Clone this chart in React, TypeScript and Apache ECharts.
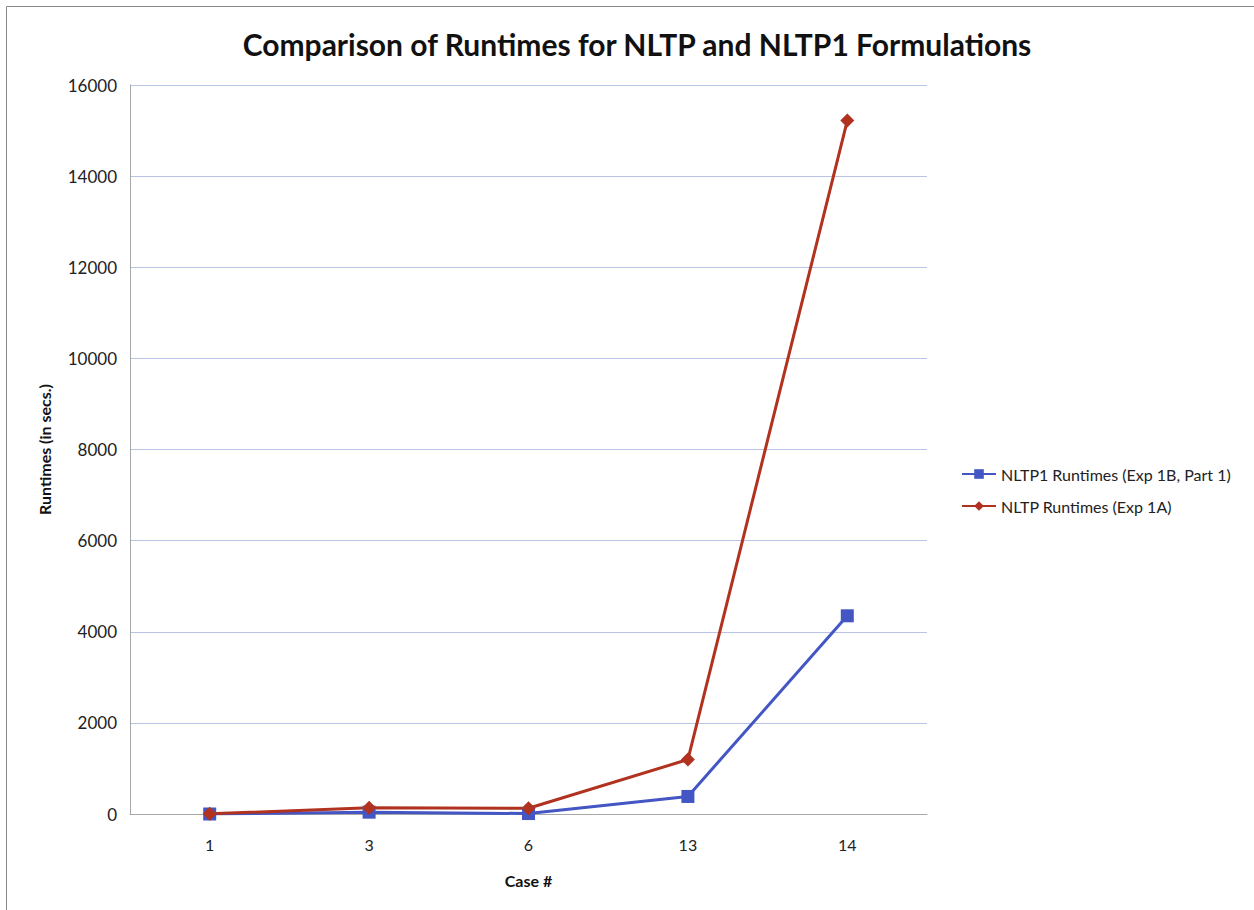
import React, { useEffect, useRef } from "react";
import * as echarts from "echarts";

const categories = ["1", "3", "6", "13", "14"];
const nltp1Runtimes = [0, 40, 10, 385, 4350];
const nltpRuntimes = [5, 135, 125, 1195, 15220];
const yTicks = [0, 2000, 4000, 6000, 8000, 10000, 12000, 14000, 16000];

export default function App() {
  const ref = useRef<HTMLDivElement>(null);
  useEffect(() => {
    document.body.style.margin = "0";
    const chart = echarts.init(ref.current!, null, { renderer: "svg" });
    chart.setOption({
      animation: false,
      backgroundColor: "#ffffff",
      title: {
        text: "Comparison of Runtimes for NLTP and NLTP1 Formulations",
        left: 632,
        textAlign: "center",
        top: 24,
        textStyle: { fontFamily: "Lato", fontWeight: "bold", fontSize: 30, color: "#111" },
      },
      graphic: [
        {
          type: "rect",
          shape: { x: 6.5, y: 6.5, width: 1260, height: 920 },
          style: { fill: "none", stroke: "#8a8a8a", lineWidth: 1 },
          silent: true,
        },
      ],
      legend: {
        orient: "vertical",
        left: 956,
        top: 461,
        itemGap: 16,
        itemWidth: 34,
        itemHeight: 12,
        textStyle: { fontFamily: "Lato", fontSize: 16, color: "#222" },
        data: ["NLTP1 Runtimes (Exp 1B, Part 1)", "NLTP Runtimes (Exp 1A)"],
      },
      grid: { left: 130, right: 327, top: 85, bottom: 96, containLabel: false },
      xAxis: {
        type: "category",
        data: categories,
        boundaryGap: true,
        name: "Case #",
        nameLocation: "middle",
        nameGap: 58,
        nameTextStyle: { fontFamily: "Lato", fontWeight: "bold", fontSize: 16, color: "#111" },
        axisLine: { lineStyle: { color: "#a8a8a8" } },
        axisTick: { show: false },
        axisLabel: { fontFamily: "Lato", fontSize: 16, color: "#222", margin: 22 },
      },
      yAxis: {
        type: "value",
        min: yTicks[0],
        max: yTicks[yTicks.length - 1],
        interval: 2000,
        name: "Runtimes (in secs.)",
        nameLocation: "middle",
        nameGap: 78,
        nameRotate: 90,
        nameTextStyle: { fontFamily: "Lato", fontWeight: "bold", fontSize: 16, color: "#111", padding: [0, 0, 0, 0] },
        axisLine: { show: true, lineStyle: { color: "#a8a8a8" } },
        axisTick: { show: false },
        axisLabel: {
          fontFamily: "Lato",
          fontSize: 17,
          color: "#222",
          margin: 13,
          formatter: (v: number) => String(v),
        },
        splitLine: { lineStyle: { color: "#b9c3e3", width: 1 } },
      },
      series: [
        {
          name: "NLTP1 Runtimes (Exp 1B, Part 1)",
          type: "line",
          data: nltp1Runtimes,
          symbol: "rect",
          symbolSize: 13,
          itemStyle: { color: "#4356c4" },
          lineStyle: { color: "#4356c4", width: 3 },
        },
        {
          name: "NLTP Runtimes (Exp 1A)",
          type: "line",
          data: nltpRuntimes,
          symbol: "diamond",
          symbolSize: 14,
          itemStyle: { color: "#b0321f" },
          lineStyle: { color: "#b0321f", width: 3 },
        },
      ],
    });
    return () => chart.dispose();
  }, []);
  return <div ref={ref} style={{ width: 1254, height: 910 }} />;
}
